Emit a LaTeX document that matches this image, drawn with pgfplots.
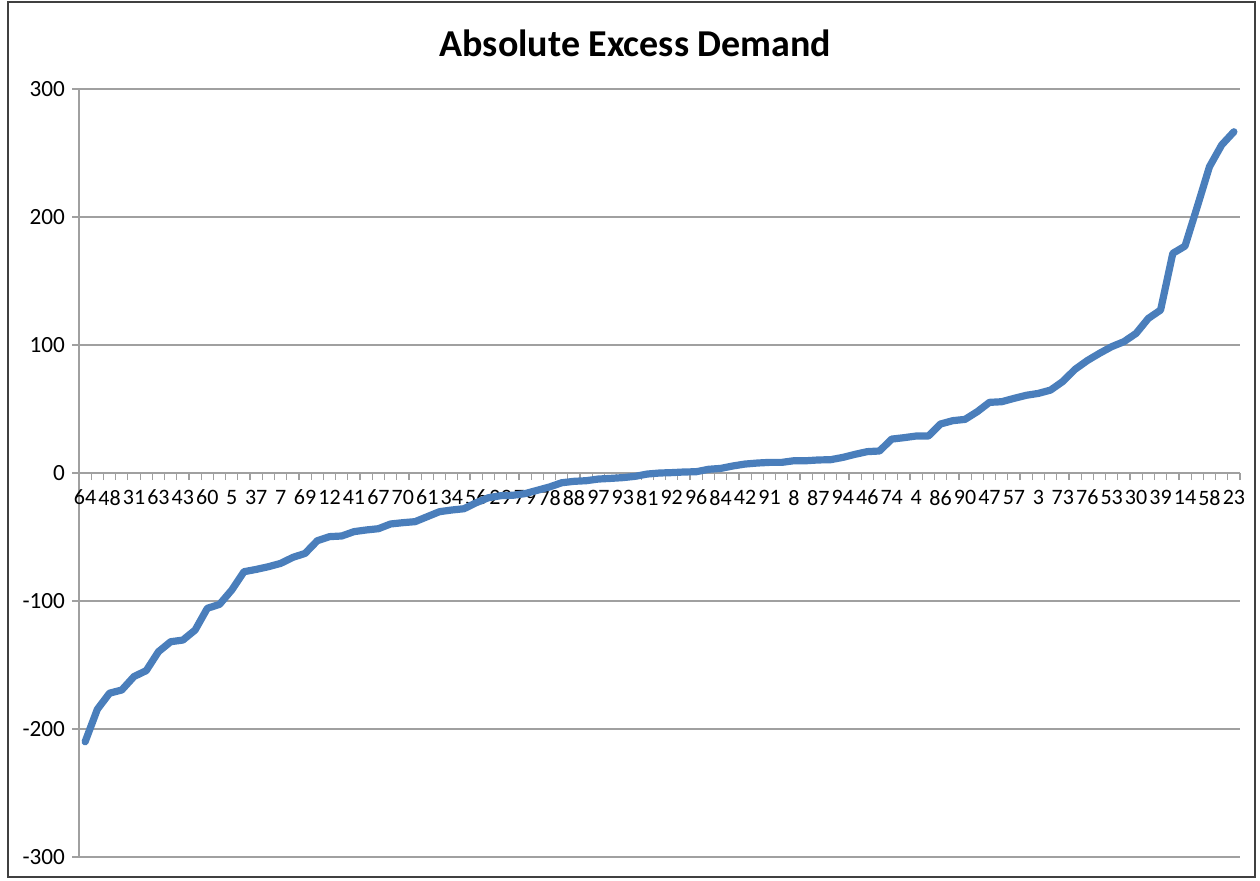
\documentclass[border=0pt]{standalone}
\usepackage{fontspec}
\setmainfont{Carlito}
\usepackage{pgfplots}
\usepackage{pgfplotstable}
\pgfplotsset{compat=1.18}
\definecolor{linecol}{HTML}{4A7EBB}
\definecolor{gridcol}{HTML}{A0A0A0}

% sorted excess demand, one row per category (position along the axis)
\pgfplotstableread{
idx val
1 -210
2 -184.6
3 -172
4 -169.5
5 -159
6 -154.4
7 -139.6
8 -131.8
9 -130.5
10 -122.7
11 -105.7
12 -102.6
13 -91.4
14 -77.1
15 -75.3
16 -73.2
17 -70.6
18 -65.9
19 -62.8
20 -52.9
21 -49.7
22 -49.2
23 -45.8
24 -44.5
25 -43.5
26 -39.8
27 -38.8
28 -38
29 -34.1
30 -30.2
31 -28.9
32 -27.9
33 -23.2
34 -19.3
35 -17.7
36 -17.4
37 -16.1
38 -13.5
39 -10.9
40 -7.6
41 -6.5
42 -6.0
43 -4.7
44 -4.2
45 -3.6
46 -2.6
47 -0.8
48 0
49 0.3
50 0.8
51 1
52 2.9
53 3.6
54 5.5
55 7
56 7.8
57 8.3
58 8.3
59 9.6
60 9.6
61 10.2
62 10.4
63 12.2
64 14.6
65 16.7
66 17.2
67 26.5
68 27.6
69 28.9
70 28.9
71 38.3
72 40.9
73 41.9
74 47.9
75 55.2
76 55.7
77 58.3
78 60.7
79 62.2
80 64.8
81 71.5
82 81
83 87.8
84 93.5
85 98.7
86 102.6
87 109.1
88 120.8
89 127.3
90 171.6
91 177.3
92 208
93 239.3
94 256.3
95 266.6
}\demand

\begin{document}
\begin{tikzpicture}
  \begin{axis}[
    name=ax, at={(0,0)}, anchor=south west,
    scale only axis, width=580.5pt, height=384pt,
    xmin=0.5, xmax=95.5, ymin=-300, ymax=300,
    axis x line=middle, axis y line=left,
    axis line style={-, draw=gridcol, line width=0.6pt},
    hide obscured x ticks=false, hide obscured y ticks=false,
    ytick={-300,-200,...,300},
    ymajorgrids, grid style={gridcol, line width=0.6pt},
    xtick={1,3,...,95},
    xticklabels={64,48,31,63,43,60,5,37,7,69,12,41,67,70,61,34,56,29,79,78,88,97,93,81,92,96,84,42,91,8,87,94,46,74,4,86,90,47,57,3,73,76,53,30,39,14,58,23},
    minor xtick={0.5,1.5,...,95.5},
    every major x tick/.append style={draw=none},
    tick style={gridcol, line width=0.6pt},
    tick align=outside,
    major tick length=3.5pt, minor tick length=3.5pt,
    ticklabel style={font=\fontsize{11.6}{13}\selectfont, black},
    xticklabel style={font=\fontsize{11}{13}\selectfont, yshift=-1.5pt, inner xsep=0pt},
    /pgf/number format/assume math mode=true,
  ]
    \addplot[linecol, line width=3.6pt, line join=round, line cap=round]
      table[x=idx, y=val] {\demand};
  \end{axis}
  \node[font=\fontsize{19}{22}\selectfont\bfseries] at ([xshift=-12pt, yshift=23pt]ax.north) {Absolute Excess Demand};
  \draw[line width=1pt, black!75] ([xshift=-35.5pt, yshift=-10pt]ax.south west) rectangle ([xshift=7.5pt, yshift=43.5pt]ax.north east);
  \pgfresetboundingbox
  \path ([xshift=-39.5pt, yshift=-11.5pt]ax.south west) rectangle ([xshift=10pt, yshift=44.5pt]ax.north east);
\end{tikzpicture}
\end{document}
